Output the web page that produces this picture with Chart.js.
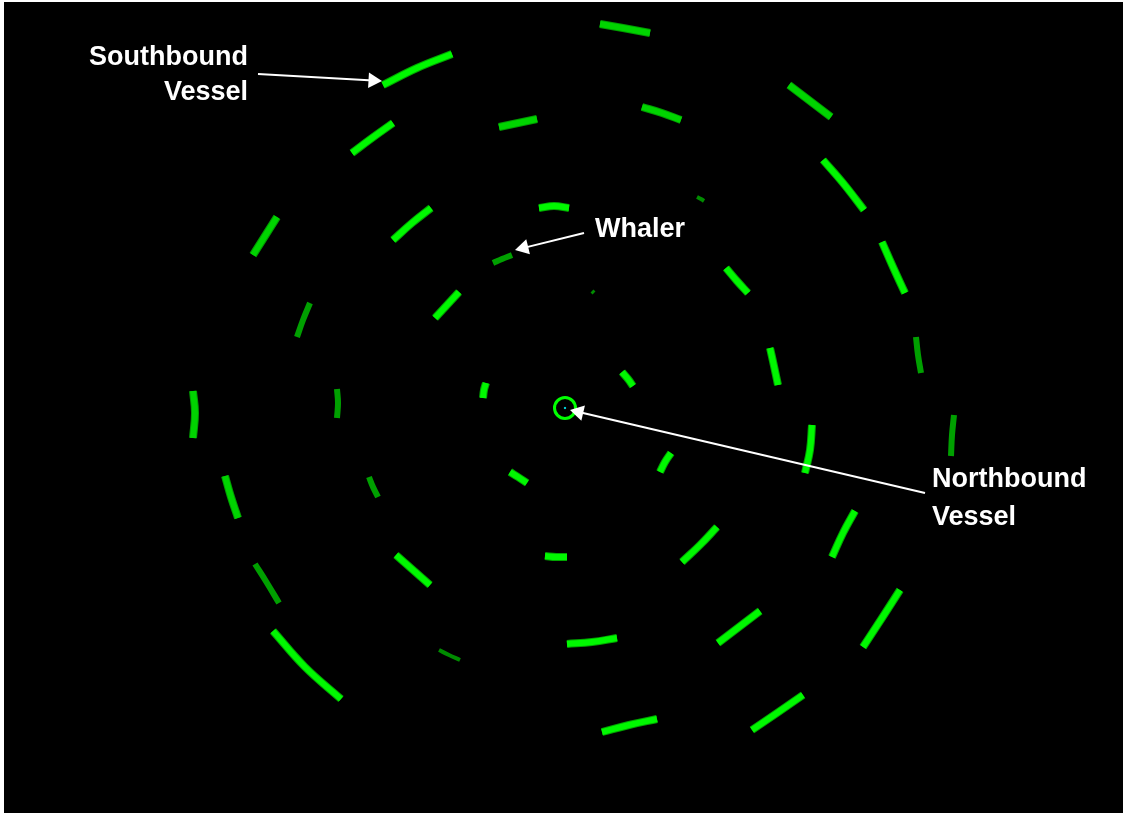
<!DOCTYPE html>
<html>
<head>
<meta charset="utf-8">
<script src="https://cdn.jsdelivr.net/npm/chart.js@4/dist/chart.umd.min.js"></script>
<style>
  html, body { margin: 0; padding: 0; background: #fff; }
  body { width: 1123px; height: 813px; position: relative; overflow: hidden; }
  #scope { position: absolute; left: 4px; top: 2px; width: 1119px; height: 811px; background: #000; }
  .label {
    position: absolute;
    color: #fff;
    font-family: "Liberation Sans", Arial, sans-serif;
    font-weight: bold;
    font-size: 27px;
    white-space: nowrap;
  }
</style>
</head>
<body>
<div id="scope"><canvas id="radar"></canvas></div>
<div class="label" id="lblSouth" style="right:875px; top:39px; line-height:35px; text-align:right;"></div>
<div class="label" id="lblWhaler" style="left:595px; top:210px; line-height:36px;"></div>
<div class="label" id="lblNorth" style="left:932px; top:459px; line-height:38px;"></div>
<script>
// ===== Data (radar units, own ship at 0,0) =====
// each echo arc: [x start, y start, x mid, y mid, x end, y end]
const brightArcs = [
  [-1.82, 3.23, -1.48, 3.40, -1.13, 3.54],
  [-2.13, 2.55, -1.93, 2.70, -1.72, 2.85],
  [-1.72, 1.68, -1.53, 1.85, -1.34, 2.00],
  [-0.26, 2.00, -0.11, 2.02, 0.04, 2.00],
  [-1.30, 0.90, -1.18, 1.03, -1.06, 1.16],
  [2.58, 2.48, 2.78, 2.25, 2.99, 1.98],
  [3.17, 1.66, 3.28, 1.41, 3.40, 1.15],
  [1.61, 1.40, 1.72, 1.27, 1.83, 1.15],
  [0.57, 0.36, 0.63, 0.29, 0.68, 0.22],
  [-0.79, 0.25, -0.81, 0.18, -0.82, 0.10],
  [1.06, -0.45, 1.00, -0.54, 0.95, -0.64],
  [-0.55, -0.64, -0.47, -0.69, -0.38, -0.75],
  [2.47, -0.17, 2.45, -0.42, 2.40, -0.65],
  [2.05, 0.60, 2.09, 0.42, 2.13, 0.23],
  [1.52, -1.19, 1.35, -1.37, 1.17, -1.54],
  [2.90, -1.03, 2.78, -1.25, 2.67, -1.49],
  [-1.69, -1.47, -1.52, -1.62, -1.35, -1.77],
  [-0.20, -1.48, -0.09, -1.49, 0.02, -1.49],
  [-2.92, -2.23, -2.60, -2.59, -2.24, -2.91],
  [0.02, -2.36, 0.27, -2.34, 0.52, -2.30],
  [1.95, -2.03, 1.74, -2.19, 1.53, -2.35],
  [3.35, -1.82, 3.17, -2.10, 2.98, -2.39],
  [0.37, -3.24, 0.64, -3.17, 0.92, -3.11],
  [2.38, -2.87, 2.12, -3.05, 1.87, -3.22],
];
const mediumArcs = [
  [0.35, 3.84, 0.58, 3.80, 0.85, 3.75],
  [0.77, 3.01, 0.97, 2.95, 1.16, 2.88],
  [2.24, 3.23, 2.45, 3.07, 2.66, 2.91],
  [-0.66, 2.81, -0.47, 2.85, -0.28, 2.89],
  [-3.72, 0.17, -3.70, -0.05, -3.72, -0.30],
  [-3.40, -0.68, -3.34, -0.89, -3.27, -1.10],
  [-3.12, 1.53, -3.00, 1.72, -2.88, 1.91],
];
const dimArcs = [
  [-2.68, 0.71, -2.62, 0.88, -2.55, 1.05],
  [-2.28, 0.19, -2.27, 0.05, -2.28, -0.10],
  [-1.96, -0.69, -1.92, -0.79, -1.87, -0.89],
  [-3.10, -1.56, -2.98, -1.75, -2.86, -1.95],
  [-0.72, 1.45, -0.63, 1.49, -0.53, 1.53],
  [3.51, 0.71, 3.53, 0.53, 3.56, 0.35],
  [3.89, -0.07, 3.87, -0.27, 3.86, -0.48],
];
const faintArcs = [
  [-1.26, -2.42, -1.16, -2.47, -1.05, -2.52],
  [1.32, 2.11, 1.36, 2.09, 1.39, 2.07],
  [0.27, 1.17, 0.28, 1.16, 0.29, 1.15],
];
const ownShip = [0, 0];

const labelTexts = ["Southbound\nVessel", "Whaler", "Northbound\nVessel"];
const arrowTails = [[-3.07, 3.34], [0.19, 1.75], [3.60, -0.85]];
const arrowTips = [[-1.83, 3.27], [-0.50, 1.58], [0.05, -0.02]];

// visible range of the scope
const X_RANGE = [-5.61, 5.58];
const Y_RANGE = [-4.05, 4.06];

// ===== Labels =====
["lblSouth", "lblWhaler", "lblNorth"].forEach((id, i) => {
  document.getElementById(id).innerHTML = labelTexts[i].replace("\n", "<br>");
});

// ===== Datasets =====
function arcSet(a, color, width, order) {
  return {
    data: [{ x: a[0], y: a[1] }, { x: a[2], y: a[3] }, { x: a[4], y: a[5] }],
    showLine: true,
    tension: 0.4,
    borderColor: color,
    borderWidth: width,
    borderCapStyle: "butt",
    pointRadius: 0,
    order: order,
  };
}

const datasets = [];
// darker fringe under each echo, brighter core on top
brightArcs.forEach((a) => {
  datasets.push(arcSet(a, "#00a400", 8, 4));
  datasets.push(arcSet(a, "#00f800", 6, 3));
});
mediumArcs.forEach((a) => {
  datasets.push(arcSet(a, "#009c00", 8, 4));
  datasets.push(arcSet(a, "#00d400", 6, 3));
});
dimArcs.forEach((a) => datasets.push(arcSet(a, "#00a000", 6, 3)));
faintArcs.forEach((a) => datasets.push(arcSet(a, "#008c00", 4, 3)));

// own ship marker
datasets.push({
  data: [{ x: ownShip[0], y: ownShip[1] }],
  pointStyle: "circle",
  pointRadius: 10.5,
  borderWidth: 3,
  borderColor: "#00ff00",
  backgroundColor: "rgba(0,0,0,0)",
  order: 2,
});
datasets.push({
  data: [{ x: ownShip[0], y: ownShip[1] }],
  pointStyle: "rect",
  pointRadius: 1.5,
  borderWidth: 0,
  backgroundColor: "#00c8d0",
  order: 2,
});

// annotation arrows: shaft + triangle head
const HEAD_R = 9; // px
const PX_PER_UNIT = 100;
arrowTails.forEach((t, i) => {
  const tip = arrowTips[i];
  const dx = tip[0] - t[0], dy = tip[1] - t[1];
  const len = Math.hypot(dx, dy);
  const ux = dx / len, uy = dy / len;
  const hc = [tip[0] - ux * HEAD_R / PX_PER_UNIT, tip[1] - uy * HEAD_R / PX_PER_UNIT];
  datasets.push({
    data: [{ x: t[0], y: t[1] }, { x: hc[0], y: hc[1] }],
    showLine: true,
    borderColor: "#fff",
    borderWidth: 2,
    pointRadius: 0,
    order: 0,
  });
  datasets.push({
    data: [{ x: hc[0], y: hc[1] }],
    pointStyle: "triangle",
    pointRadius: HEAD_R,
    rotation: Math.atan2(ux, uy) * 180 / Math.PI,
    backgroundColor: "#fff",
    borderWidth: 0,
    order: 0,
  });
});

new Chart(document.getElementById("radar"), {
  type: "scatter",
  data: { datasets },
  options: {
    responsive: true,
    maintainAspectRatio: false,
    animation: false,
    events: [],
    layout: { padding: 0, autoPadding: false },
    plugins: { legend: { display: false }, tooltip: { enabled: false } },
    scales: {
      x: { type: "linear", display: false, min: X_RANGE[0], max: X_RANGE[1] },
      y: { type: "linear", display: false, min: Y_RANGE[0], max: Y_RANGE[1] },
    },
  },
});
</script>
</body>
</html>
